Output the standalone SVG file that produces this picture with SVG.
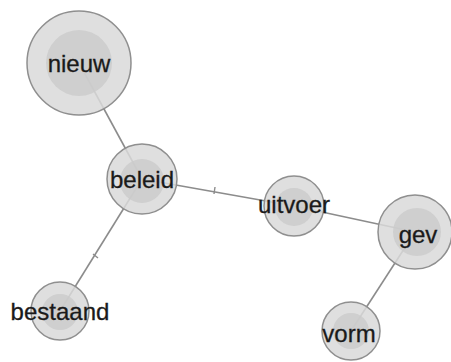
<svg xmlns="http://www.w3.org/2000/svg" width="451" height="362" viewBox="0 0 451 362">
<style>
.edge{stroke:#8c8c8c;stroke-width:1.6;fill:none}
.tick{stroke:#8c8c8c;stroke-width:1.4}
.outer{fill:#d9d9d9;fill-opacity:0.85;stroke:#8f8f8f;stroke-width:1.5}
.inner{fill:#cbcbcb;fill-opacity:0.8}
.lbl{font-family:"Liberation Sans",Arial,sans-serif;font-size:24px;fill:#1a1a1a;stroke:#1a1a1a;stroke-width:0.3;text-anchor:middle}
</style>
<rect width="451" height="362" fill="#fff"/>
<g id="connectors">
<line class="edge" x1="79" y1="63" x2="142" y2="179"/>
<line class="edge" x1="142" y1="179" x2="294" y2="206"/>
<line class="edge" x1="142" y1="179" x2="60" y2="311"/>
<line class="edge" x1="294" y1="206" x2="415" y2="232"/>
<line class="edge" x1="415" y1="232" x2="351" y2="331"/>
<line class="tick" x1="215" y1="187" x2="214" y2="194"/>
<line class="tick" x1="93" y1="254" x2="98" y2="258"/>
</g>
<g id="nieuw">
<circle class="outer" cx="79" cy="63" r="52"/>
<circle class="inner" cx="79" cy="63" r="33"/>
<text class="lbl" x="79" y="72">nieuw</text>
</g>
<g id="beleid">
<circle class="outer" cx="142" cy="179" r="35"/>
<circle class="inner" cx="142" cy="181" r="22"/>
<text class="lbl" x="142" y="188">beleid</text>
</g>
<g id="uitvoer">
<circle class="outer" cx="294" cy="206" r="30"/>
<circle class="inner" cx="294" cy="207" r="19"/>
<text class="lbl" x="294" y="213">uitvoer</text>
</g>
<g id="gev">
<circle class="outer" cx="415" cy="232" r="37"/>
<circle class="inner" cx="417" cy="232" r="24"/>
<text class="lbl" x="418" y="243">gev</text>
</g>
<g id="bestaand">
<circle class="outer" cx="60" cy="311" r="29"/>
<circle class="inner" cx="60" cy="312" r="18"/>
<text class="lbl" x="60" y="320">bestaand</text>
</g>
<g id="vorm">
<circle class="outer" cx="351" cy="331" r="29"/>
<circle class="inner" cx="351" cy="331" r="18"/>
<text class="lbl" x="349" y="342">vorm</text>
</g>
</svg>
